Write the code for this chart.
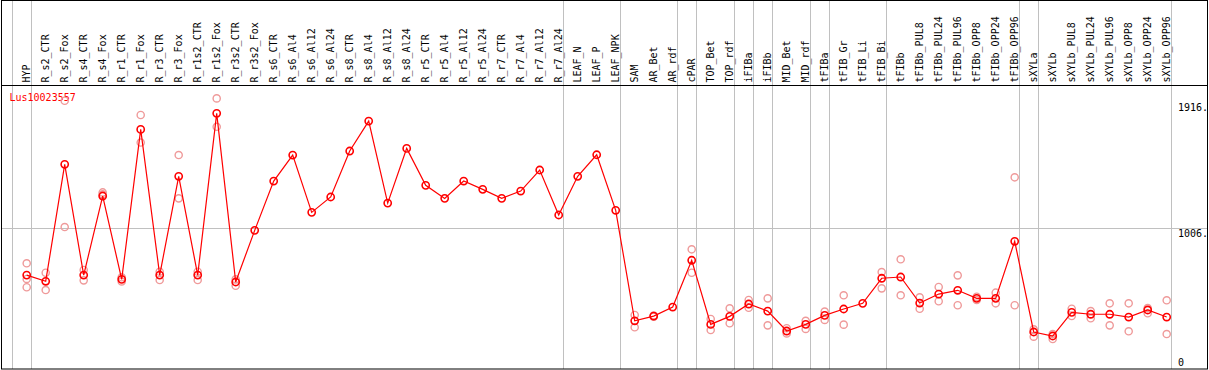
<!DOCTYPE html>
<html>
<head>
<meta charset="utf-8">
<script src="https://cdn.jsdelivr.net/npm/d3@7"></script>
<style>
  body { margin: 0; background: #fff; }
  svg { display: block; }
  text { font-family: "DejaVu Sans Mono", monospace; font-size: 10px; }
</style>
</head>
<body>
<div id="chart"></div>
<script>
//sample names, in the order they are plotted
var categories = [
  "HYP", "R_s2_CTR", "R_s2_Fox", "R_s4_CTR", "R_s4_Fox", "R_r1_CTR", "R_r1_Fox",
  "R_r3_CTR", "R_r3_Fox", "R_r1s2_CTR", "R_r1s2_Fox", "R_r3s2_CTR", "R_r3s2_Fox",
  "R_s6_CTR", "R_s6_Al4", "R_s6_Al12", "R_s6_Al24", "R_s8_CTR", "R_s8_Al4",
  "R_s8_Al12", "R_s8_Al24", "R_r5_CTR", "R_r5_Al4", "R_r5_Al12", "R_r5_Al24",
  "R_r7_CTR", "R_r7_Al4", "R_r7_Al12", "R_r7_Al24", "LEAF_N", "LEAF_P", "LEAF_NPK",
  "SAM", "AR_Bet", "AR_rdf", "cPAR", "TOP_Bet", "TOP_rdf", "iFIBa", "iFIBb",
  "MID_Bet", "MID_rdf", "tFIBa", "tFIB_Gr", "tFIB_Li", "tFIB_Bi", "tFIBb",
  "tFIBb_PUL8", "tFIBb_PUL24", "tFIBb_PUL96", "tFIBb_OPP8", "tFIBb_OPP24", "tFIBb_OPP96",
  "sXYLa", "sXYLb", "sXYLb_PUL8", "sXYLb_PUL24", "sXYLb_PUL96", "sXYLb_OPP8",
  "sXYLb_OPP24", "sXYLb_OPP96"
];

//mean expression per sample (the red line)
var means = [
  666, 621, 1466, 666, 1237, 635, 1718, 666, 1379, 666, 1834, 616, 989,
  1345, 1533, 1119, 1230, 1562, 1778, 1186, 1581, 1314, 1220, 1345, 1285,
  1220, 1273, 1425, 1100, 1379, 1535, 1134,
  336, 370, 435, 773, 310, 368, 457, 406, 262, 310, 375, 421, 462, 643, 652,
  464, 529, 556, 498, 498, 910,
  255, 226, 397, 383, 383, 363, 414, 363
];

//single replicates (pale circles), empty where none are visible
var replicates = [
  [751, 638, 578], [683, 558], [1925, 1013], [703, 628], [1263, 1249], [650, 620],
  [1822, 1623], [690, 630], [1533, 1220], [690, 630], [1942, 1737], [635, 589], [],
  [], [], [], [], [], [], [], [], [], [], [], [], [], [], [], [], [], [], [],
  [378, 289], [374, 365], [], [852, 683], [349, 269], [426, 318], [486, 430],
  [498, 303], [282, 245], [336, 277], [402, 342], [520, 308], [], [688, 570],
  [780, 520], [505, 423], [580, 477], [664, 448], [486, 510], [539, 462],
  [1372, 448], [274, 221], [240, 204], [423, 370], [406, 354], [462, 303],
  [462, 260], [428, 390], [484, 240]
];

//index of the last sample of each group (-1 is the left edge)
var groupEnds = [-1, 0, 28, 31, 34, 35, 37, 38, 39, 41, 42, 45, 52, 53, 60];

//value axis labels
var yTicks = [0, 1006, 1916];
var yTickLabels = ["0", "1006.", "1916."];
var gridValues = [1006];

var geneName = "Lus10023557";

var width = 1209,
  height = 370;

var labelBottom = 85.5,
  plotBottom = 369;

var svg = d3
  .select("#chart")
  .append("svg")
  .attr("width", width)
  .attr("height", height);

var x = d3
  .scaleLinear()
  .domain([0, categories.length - 1])
  .range([26.7, 1166.7]);

var y = d3
  .scaleLinear()
  .domain([0, 1916])
  .range([367.3, 102]);

//grey group separators, full height
svg
  .selectAll(".sep")
  .data(groupEnds)
  .enter()
  .append("line")
  .attr("class", "sep")
  .attr("x1", function(d) { return Math.round(x(d) + 4) + 0.5; })
  .attr("x2", function(d) { return Math.round(x(d) + 4) + 0.5; })
  .attr("y1", 0)
  .attr("y2", plotBottom)
  .attr("stroke", "#c0c0c0")
  .attr("stroke-width", 1);

//horizontal grid line(s)
svg
  .selectAll(".hgrid")
  .data(gridValues)
  .enter()
  .append("line")
  .attr("class", "hgrid")
  .attr("x1", 1)
  .attr("x2", 1207)
  .attr("y1", function(d) { return Math.round(y(d)) + 0.5; })
  .attr("y2", function(d) { return Math.round(y(d)) + 0.5; })
  .attr("stroke", "#c0c0c0");

//frame and the line under the sample names
svg
  .append("rect")
  .attr("x", 1.5)
  .attr("y", 0.5)
  .attr("width", 1206)
  .attr("height", plotBottom - 0.5)
  .attr("fill", "none")
  .attr("stroke", "#000")
  .attr("stroke-width", 1);

svg
  .append("line")
  .attr("x1", 1)
  .attr("x2", 1208)
  .attr("y1", labelBottom)
  .attr("y2", labelBottom)
  .attr("stroke", "#000")
  .attr("stroke-width", 1);

//rotated sample names
svg
  .selectAll(".catlabel")
  .data(categories)
  .enter()
  .append("text")
  .attr("class", "catlabel")
  .attr("transform", function(d, i) {
    return "translate(" + (x(i) + 3.5) + "," + 82.5 + ") rotate(-90)";
  })
  .attr("text-anchor", "start")
  .attr("fill", "#000")
  .text(function(d) { return d; });

//value labels on the right
svg
  .selectAll(".ylabel")
  .data(yTicks)
  .enter()
  .append("text")
  .attr("class", "ylabel")
  .attr("x", 1178)
  .attr("y", function(d) { return Math.min(y(d) + 9, 365.5); })
  .attr("fill", "#000")
  .text(function(d, i) { return yTickLabels[i]; });

//gene name
svg
  .append("text")
  .attr("x", 9.5)
  .attr("y", 100.5)
  .attr("fill", "#ff0000")
  .text(geneName);

//pale replicate circles
var repPoints = [];
replicates.forEach(function(vals, i) {
  vals.forEach(function(v) {
    repPoints.push({ i: i, v: v });
  });
});

svg
  .selectAll(".rep")
  .data(repPoints)
  .enter()
  .append("circle")
  .attr("class", "rep")
  .attr("cx", function(d) { return x(d.i); })
  .attr("cy", function(d) { return y(d.v); })
  .attr("r", 3.6)
  .attr("fill", "none")
  .attr("stroke", "#ef9a9a")
  .attr("stroke-width", 1.4);

//mean line and circles
var line = d3
  .line()
  .x(function(d, i) { return x(i); })
  .y(function(d) { return y(d); });

svg
  .append("path")
  .datum(means)
  .attr("d", line)
  .attr("fill", "none")
  .attr("stroke", "#ff0000")
  .attr("stroke-width", 1.2);

svg
  .selectAll(".mean")
  .data(means)
  .enter()
  .append("circle")
  .attr("class", "mean")
  .attr("cx", function(d, i) { return x(i); })
  .attr("cy", function(d) { return y(d); })
  .attr("r", 3.6)
  .attr("fill", "none")
  .attr("stroke", "#ff0000")
  .attr("stroke-width", 1.6);
</script>
</body>
</html>
